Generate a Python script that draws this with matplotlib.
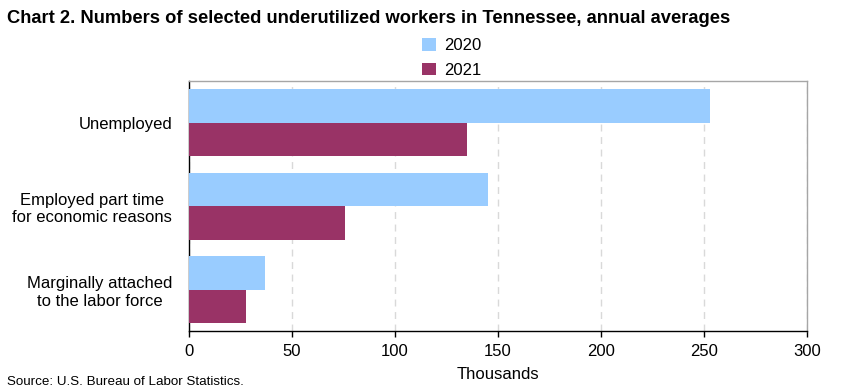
import numpy as np
import matplotlib.pyplot as plt

plt.rcParams['font.family'] = ['Liberation Sans', 'DejaVu Sans']

# data (thousands)
categories = ["Unemployed", "Employed part time\nfor economic reasons",
              "Marginally attached\nto the labor force"]
years = ["2020", "2021"]
vals_2020 = [253, 145, 37]
vals_2021 = [135, 76, 28]
xticks = [0, 50, 100, 150, 200, 250, 300]

c2020 = "#99CCFF"
c2021 = "#993366"

fig = plt.figure(figsize=(8.41, 3.91), dpi=100)
ax = fig.add_axes([0.2244, 0.1522, 0.7355, 0.6407])

y = np.arange(len(categories))
h = 0.4
b1 = ax.barh(y - h / 2, vals_2020, height=h, color=c2020, label=years[0], zorder=3)
b2 = ax.barh(y + h / 2, vals_2021, height=h, color=c2021, label=years[1], zorder=3)

ax.set_xlim(0, 300)
ax.set_ylim(2.5, -0.5)
ax.set_xticks(xticks)
ax.set_xticklabels([str(t) for t in xticks], fontsize=12)
ax.set_yticks(y)
ax.set_yticklabels(categories, fontsize=12)
for lab in ax.get_yticklabels():
    lab.set_multialignment('center')
ax.tick_params(axis='y', length=0, pad=12)
ax.tick_params(axis='x', length=4, width=1, direction='out', pad=5)

ax.grid(axis='x', linestyle=(0, (5, 4)), color='#d9d9d9', linewidth=1, zorder=0)
ax.spines['left'].set_color('black')
ax.spines['bottom'].set_color('black')
ax.spines['top'].set_color('#a6a6a6')
ax.spines['right'].set_color('#a6a6a6')
for s in ax.spines.values():
    s.set_linewidth(1)

ax.set_xlabel("Thousands", fontsize=12, labelpad=6)

fig.text(0.008, 0.953, "Chart 2. Numbers of selected underutilized workers in Tennessee, annual averages",
         fontsize=13.2, fontweight='bold', ha='left', va='center')
fig.text(0.008, 0.022, "Source: U.S. Bureau of Labor Statistics.", fontsize=9.6,
         ha='left', va='center')

fig.legend(handles=[b1, b2], loc='upper left', bbox_to_anchor=(0.502, 0.902),
           frameon=False, ncol=1, fontsize=12, handlelength=0.8, handleheight=0.8,
           handletextpad=0.5, labelspacing=0.55, borderaxespad=0, borderpad=0)

fig.savefig("out.png", dpi=100)
